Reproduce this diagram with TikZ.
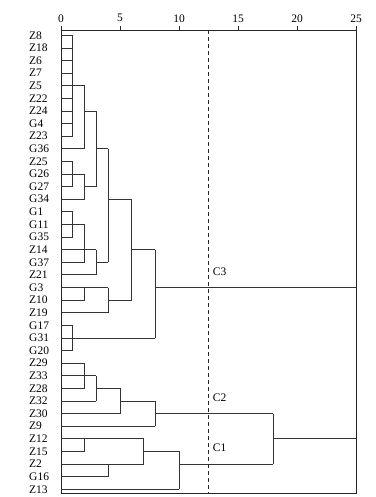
\documentclass[tikz,border=0pt]{standalone}
\usepackage{fontspec}
\setmainfont{Liberation Serif}
\usetikzlibrary{positioning}
\tikzset{
  leaflabel/.style = {anchor=west, inner sep=0pt, font=\fontsize{11.5}{13}\selectfont},
  ticklabel/.style = {inner sep=0pt, font=\fontsize{11.5}{13}\selectfont},
  cutlabel/.style  = {anchor=west, inner sep=0pt, font=\fontsize{11.5}{13}\selectfont},
  branch/.style    = {line width=0.8pt, black!80},
  frame/.style     = {line width=0.8pt, black!85},
  cutline/.style   = {line width=0.8pt, black!85, dash pattern=on 4pt off 3pt},
}

\begin{document}
\begin{tikzpicture}[x=1pt, y=-1pt]
  \useasboundingbox (0,0) rectangle (375,497);
  \begin{scope}[shift={(61,35.3)}, x=11.8pt, y=-12.61pt]
    % frame and distance scale
    \draw[frame] (0,-0.42) rectangle (25,36.32);
    \foreach \t in {0,5,...,25} {
      \draw[frame] (\t,-0.42) -- (\t,-0.74);
      \node[ticklabel] (tick\t) at (\t,-1.35) {\t};
    }
    % leaves: row / name / first merge distance
    \foreach \i/\name/\e in {0/Z8/1, 1/Z18/1, 2/Z6/1, 3/Z7/1, 4/Z5/1, 5/Z22/1,
        6/Z24/1, 7/G4/1, 8/Z23/1, 9/G36/2, 10/Z25/1, 11/G26/1, 12/G27/1,
        13/G34/2, 14/G1/1, 15/G11/1, 16/G35/1, 17/Z14/2, 18/G37/2, 19/Z21/3,
        20/G3/2, 21/Z10/2, 22/Z19/4, 23/G17/1, 24/G31/1, 25/G20/1, 26/Z29/2,
        27/Z33/2, 28/Z28/2, 29/Z32/3, 30/Z30/5, 31/Z9/8, 32/Z12/2, 33/Z15/2,
        34/Z2/4, 35/G16/4, 36/Z13/10} {
      \node[leaflabel] (\name) at (-2.71,\i) {\name};
      \draw[branch] (0,\i) -- (\e,\i);
    }
    % merges: distance / from row / to row / cluster row / next distance
    \foreach \d/\a/\b/\m/\p in {1/0/8/4/2, 2/4/9/6/3, 1/10/12/11/2, 2/11/13/12/3,
        3/6/12/9/4, 1/14/16/15/2, 2/15/18/17/3, 3/17/19/18/4, 4/9/18/13/6,
        2/20/21/20/4, 4/20/22/21/6, 6/13/21/17/8, 1/23/25/24/8, 8/17/24/20/25,
        2/26/28/27/3, 3/27/29/28/5, 5/28/30/29/8, 8/29/31/30/18, 2/32/33/32/7,
        4/34/35/34/7, 7/32/34/33/10, 10/33/36/34/18, 18/30/34/32/25} {
      \draw[branch] (\d,\a) -- (\d,\b);
      \draw[branch] (\d,\m) -- (\p,\m);
    }
    % cut line and cluster names
    \draw[cutline] (12.5,-0.42) -- (12.5,36.32);
    \node[cutlabel] (c3) at (12.86,18.75) {C3};
    \node[cutlabel] (c2) at (12.86,28.76) {C2};
    \node[cutlabel] (c1) at (12.86,32.7) {C1};
  \end{scope}
\end{tikzpicture}
\end{document}
